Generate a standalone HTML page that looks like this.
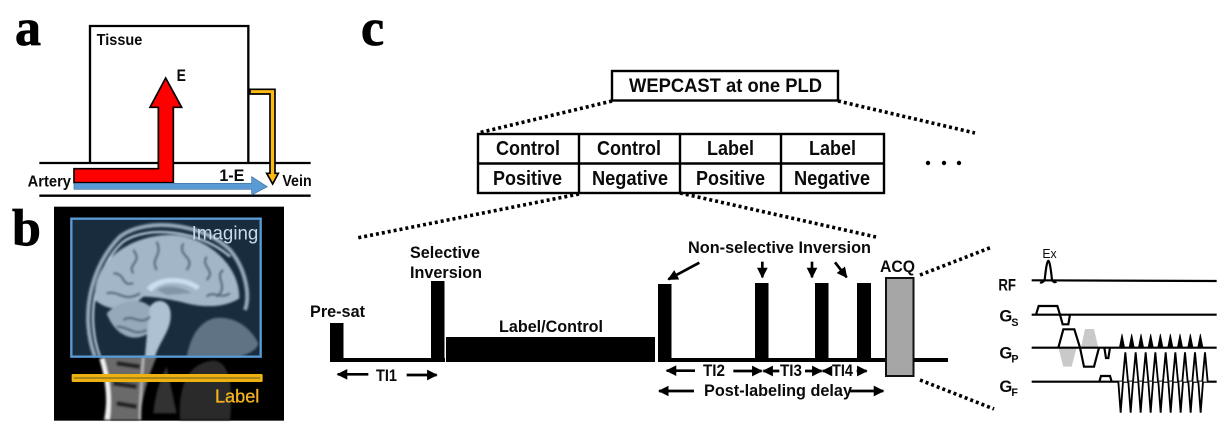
<!DOCTYPE html>
<html><head><meta charset="utf-8"><style>
html,body{margin:0;padding:0;background:#fff;width:1229px;height:440px;overflow:hidden}
svg{display:block}
text{font-family:"Liberation Sans",sans-serif;font-weight:bold;fill:#0a0a0a}
.s{font-family:"Liberation Serif",serif;font-size:52px;fill:#000;stroke:#000;stroke-width:.8}
.d{stroke:#000;stroke-width:3.6;stroke-dasharray:3 3;fill:none}
.a{stroke:#000;stroke-width:8;fill:none;marker-end:url(#h)}
</style></head><body>
<svg width="1229" height="440" viewBox="0 0 1229 440" xmlns="http://www.w3.org/2000/svg">
<defs>
<marker id="h" viewBox="0 0 10 10" refX="9" refY="5" markerWidth="4" markerHeight="4" orient="auto" markerUnits="strokeWidth"><path d="M0 0L10 5L0 10z" fill="#000"/></marker>
<filter id="b1"><feGaussianBlur stdDeviation="3"/></filter>
</defs>
<rect width="1229" height="440" fill="#fff"/>
<text class="s" x="15" y="45">a</text>
<text class="s" x="12" y="245">b</text>
<text class="s" x="361" y="45">c</text>

<!-- panel a -->
<g transform="scale(0.33333)">
<path d="M270 489V78H745V489" fill="none" stroke="#000" stroke-width="7"/>
<path d="M118 489H932M118 587H932" stroke="#000" stroke-width="7" fill="none"/>
<path d="M222 506H475V322H450L497 234L545 322H520V548H222Z" fill="#fe0000" stroke="#000" stroke-width="5"/>
<path d="M222 550H755V530L802 560L755 585V568H222Z" fill="#5b9bd5" stroke="#3d6f9c" stroke-width="2"/>
<path d="M750 268H825V520H835L818 552L800 520H810V282H750Z" fill="#fcb913" stroke="#000" stroke-width="5"/>
<text x="290" y="135" font-size="46" textLength="137" lengthAdjust="spacingAndGlyphs">Tissue</text>
<text x="530" y="243" font-size="50" textLength="28" lengthAdjust="spacingAndGlyphs">E</text>
<text x="658" y="543" font-size="50" textLength="75" lengthAdjust="spacingAndGlyphs">1-E</text>
<text x="83" y="560" font-size="46" textLength="130" lengthAdjust="spacingAndGlyphs">Artery</text>
<text x="847" y="558" font-size="46" textLength="88" lengthAdjust="spacingAndGlyphs">Vein</text>
</g>

<!-- panel b -->
<g transform="translate(0,200) scale(0.33333)">
<rect x="162" y="20" width="690" height="642" fill="#000"/>
<g filter="url(#b1)">
<path d="M310 470C320 540 325 600 310 660H420C425 600 440 540 470 470Z" fill="#6a6a6a"/>
<path d="M305 475C325 540 330 600 322 660" stroke="#f2f2f2" stroke-width="14" fill="none"/>
<path d="M430 470C425 540 420 600 420 660" stroke="#bbb" stroke-width="7" fill="none"/>
<path d="M350 490L420 500M340 550L410 560M350 610L410 620" stroke="#222" stroke-width="14"/>
<path d="M460 640C465 600 470 560 500 500L530 640Z" fill="#333"/>
<path d="M540 660C535 560 560 490 640 482C690 485 700 560 690 660Z" fill="#2b2b2b"/>
<path d="M285 470C240 350 270 200 360 110C440 50 610 70 690 150C740 210 750 290 735 330" fill="none" stroke="#b5b5b5" stroke-width="12"/>
<path d="M300 470C255 350 285 200 370 125C440 75 600 90 690 170" fill="none" stroke="#ffffff" stroke-width="6"/>
<path d="M285 300C275 190 380 110 500 105C610 100 720 190 718 295C680 320 620 325 560 310C520 300 470 290 430 290C390 330 330 340 285 300Z" fill="#c6c6c6"/>
<path d="M320 340C360 300 420 290 450 320L455 390C420 430 350 420 320 340Z" fill="#b4b4b4"/>
<path d="M450 320C470 290 510 300 512 340C515 390 480 420 465 470H435C440 410 445 360 450 320Z" fill="#d6d6d6"/>
<path d="M560 470C570 420 590 370 640 355C700 345 750 380 775 430C770 450 750 460 720 470Z" fill="#666"/>
<path d="M440 265C470 225 560 225 600 260L590 270C550 240 480 240 455 275Z" fill="#fff"/>
<path d="M470 270C500 250 550 260 575 280L500 285Z" fill="#999"/>
</g>
<g filter="url(#b1)" fill="none" stroke="#555" stroke-width="6">
<path d="M400 150C430 190 380 190 400 220M470 125C490 170 450 170 470 210M550 130C530 170 590 170 560 210M620 170C600 200 650 210 620 240M670 210C640 230 690 260 650 290M340 220C380 220 360 260 400 250M320 280C360 270 370 310 420 280M370 360C400 340 420 380 450 350M350 380C390 380 400 410 440 390M620 290C640 270 660 300 690 280"/>
</g>
<rect x="214" y="56" width="568" height="414" fill="rgba(80,145,205,.3)" stroke="none"/>
<rect x="214" y="56" width="568" height="414" fill="none" stroke="#5b9bd5" stroke-width="7"/>
<rect x="215" y="522" width="573" height="24" rx="3" fill="#edb20f"/>
<rect x="222" y="532" width="558" height="4" fill="#8a6f1e"/>
<text x="575" y="118" font-size="58" style="font-weight:normal;fill:#c5dbed" textLength="200" lengthAdjust="spacingAndGlyphs">Imaging</text>
<text x="645" y="607" font-size="56" style="font-weight:normal;fill:#f4b21f;stroke:#f4b21f;stroke-width:1" textLength="133" lengthAdjust="spacingAndGlyphs">Label</text>
</g>

<!-- table section -->
<rect x="612" y="71" width="226" height="29.5" fill="#fff" stroke="#000" stroke-width="2.4"/>
<text x="629" y="92" font-size="19" textLength="193" lengthAdjust="spacingAndGlyphs">WEPCAST at one PLD</text>
<g fill="none" stroke="#000" stroke-width="2.4">
<rect x="478" y="134" width="406" height="59"/>
<path d="M478 163.500H884M579 134V193M680 134V193M781 134V193"/>
</g>
<g font-size="20">
<text x="496" y="155" textLength="64" lengthAdjust="spacingAndGlyphs">Control</text>
<text x="597" y="155" textLength="64" lengthAdjust="spacingAndGlyphs">Control</text>
<text x="707" y="155" textLength="47" lengthAdjust="spacingAndGlyphs">Label</text>
<text x="809" y="155" textLength="47" lengthAdjust="spacingAndGlyphs">Label</text>
<text x="493" y="185" textLength="69" lengthAdjust="spacingAndGlyphs">Positive</text>
<text x="592" y="185" textLength="76" lengthAdjust="spacingAndGlyphs">Negative</text>
<text x="696" y="185" textLength="69" lengthAdjust="spacingAndGlyphs">Positive</text>
<text x="794" y="185" textLength="76" lengthAdjust="spacingAndGlyphs">Negative</text>
</g>
<path class="d" d="M612 101L478 133M838 101L975 133M579 194L357 238M680 193L876 237M920 275L992 247M920 380L994 409"/>
<g fill="#000"><circle cx="928" cy="163" r="2.200"/><circle cx="944" cy="163" r="2.200"/><circle cx="959" cy="163" r="2.200"/></g>

<!-- sequence -->
<g fill="#000">
<rect x="330" y="358" width="115" height="4"/>
<rect x="330" y="323" width="13.500" height="39"/>
<rect x="431" y="281" width="13.500" height="81"/>
<rect x="446" y="337" width="209" height="25"/>
<rect x="658" y="358" width="290" height="4"/>
<rect x="658" y="284" width="13.500" height="78"/>
<rect x="755" y="283" width="13.500" height="79"/>
<rect x="815" y="283" width="13.500" height="79"/>
<rect x="857" y="283" width="14" height="79"/>
</g>
<rect x="886" y="278" width="27.500" height="98" fill="#a6a6a6" stroke="#111" stroke-width="2"/>
<g font-size="17">
<text x="310" y="317" textLength="55" lengthAdjust="spacingAndGlyphs">Pre-sat</text>
<text x="410" y="258" textLength="70" lengthAdjust="spacingAndGlyphs">Selective</text>
<text x="410" y="278" textLength="72" lengthAdjust="spacingAndGlyphs">Inversion</text>
<text x="499" y="332" textLength="104" lengthAdjust="spacingAndGlyphs">Label/Control</text>
<text x="376" y="381" textLength="21" lengthAdjust="spacingAndGlyphs">TI1</text>
<text x="688" y="253" textLength="183" lengthAdjust="spacingAndGlyphs">Non-selective Inversion</text>
<text x="880" y="272" textLength="35" lengthAdjust="spacingAndGlyphs">ACQ</text>
<text x="703" y="376" textLength="22" lengthAdjust="spacingAndGlyphs">TI2</text>
<text x="780" y="376" textLength="22" lengthAdjust="spacingAndGlyphs">TI3</text>
<text x="832" y="376" textLength="21" lengthAdjust="spacingAndGlyphs">TI4</text>
<text x="704" y="396" textLength="148" lengthAdjust="spacingAndGlyphs">Post-labeling delay</text>
</g>
<g transform="translate(300,220) scale(0.33333)">
<path class="a" d="M205 463H113"/><path class="a" d="M320 465H410"/>
</g>
<g transform="translate(640,220) scale(0.33333)">
<path class="a" d="M178 128L85 178"/><path class="a" d="M367 125V172"/><path class="a" d="M516 125V172"/><path class="a" d="M585 127L620 172"/>
<path class="a" d="M165 452H80"/><path class="a" d="M280 453H365"/><path class="a" d="M418 453H370"/><path class="a" d="M495 453H545"/><path class="a" d="M572 453H548"/><path class="a" d="M650 453H680"/>
<path class="a" d="M162 513H57"/><path class="a" d="M630 513H730"/>
</g>

<!-- pulse diagram -->
<g transform="translate(970,230) scale(0.33333)">
<g fill="#c9c9c9"><path d="M333 353L345 297H372L385 353Z"/><path d="M265 353L280 410H305L320 353Z"/></g>
<g fill="none" stroke="#000" stroke-width="6.500">
<path d="M185 151L740 153M185 254H740M185 353H740M185 455H740"/>
<path d="M210 157Q217 160 224 150Q230 92 235 92Q240 92 246 150Q252 160 259 155"/>
<path d="M198 254L206 228H262L270 254L278 283H295L300 254"/>
<path d="M265 353L280 298H313L330 353L342 410H372L387 353"/>
<path d="M403 353L408 384H415L420 353"/>
<path d="M388 455L393 438H420L425 455"/>
</g>
<g fill="#000" stroke="#000" stroke-width="2">
<path d="M448 353L456 312L464 353ZM477 353L485 312L493 353ZM505 353L513 312L521 353ZM534 353L542 312L550 353ZM563 353L571 312L579 353ZM593 353L601 312L609 353ZM622 353L630 312L638 353ZM653 353L661 312L669 353ZM683 353L691 312L699 353Z"/>
</g>
<g fill="#fff" stroke="#000" stroke-width="5.500">
<path d="M458 455L466 367L474 455M489 455L497 367L505 455M519 455L527 367L535 455M548 455L556 367L564 455M579 455L587 367L595 455M608 455L616 367L624 455M637 455L645 367L653 455M667 455L675 367L683 455M697 455L705 367L713 455"/>
<path d="M445 455L452 548L459 455M475 455L482 548L489 455M505 455L512 548L519 455M535 455L542 548L549 455M565 455L572 548L579 455M595 455L602 548L609 455M625 455L632 548L639 455M655 455L662 548L669 455M685 455L692 548L699 455"/>
</g>
<text x="217" y="84" font-size="40" style="font-weight:normal" textLength="43" lengthAdjust="spacingAndGlyphs">Ex</text>
<text x="85" y="182" font-size="50" textLength="53" lengthAdjust="spacingAndGlyphs">RF</text>
<text x="88" y="275" font-size="50">G</text><text x="124" y="288" font-size="32">S</text>
<text x="88" y="385" font-size="50">G</text><text x="124" y="397" font-size="32">P</text>
<text x="88" y="486" font-size="50">G</text><text x="124" y="498" font-size="32">F</text>
</g>
</svg>
</body></html>
